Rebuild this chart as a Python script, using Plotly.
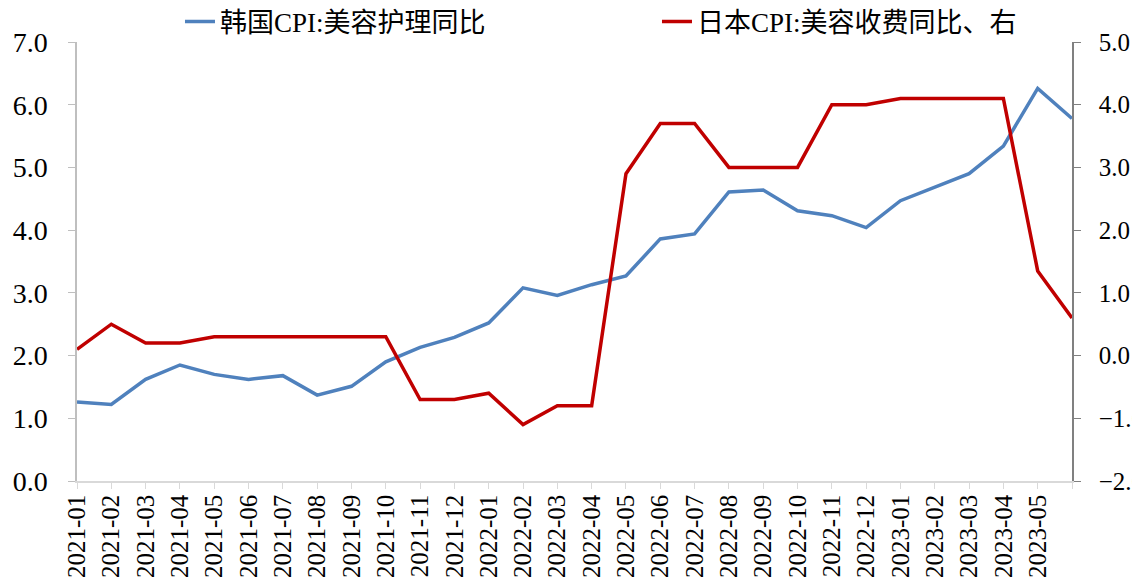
import plotly.graph_objects as go

# months 2021-01 .. 2023-06
months = ['2021-01', '2021-02', '2021-03', '2021-04', '2021-05', '2021-06',
          '2021-07', '2021-08', '2021-09', '2021-10', '2021-11', '2021-12',
          '2022-01', '2022-02', '2022-03', '2022-04', '2022-05', '2022-06',
          '2022-07', '2022-08', '2022-09', '2022-10', '2022-11', '2022-12',
          '2023-01', '2023-02', '2023-03', '2023-04', '2023-05', '2023-06']

# 韩国CPI:美容护理同比 (left axis)
korea = [1.26, 1.22, 1.62, 1.85, 1.70, 1.62, 1.68, 1.37, 1.51, 1.90,
         2.13, 2.29, 2.52, 3.08, 2.96, 3.13, 3.27, 3.86, 3.94, 4.61,
         4.64, 4.31, 4.23, 4.04, 4.47, 4.68, 4.90, 5.34, 6.26, 5.78]

# 日本CPI:美容收费同比 (right axis)
japan = [0.1, 0.5, 0.2, 0.2, 0.3, 0.3, 0.3, 0.3, 0.3, 0.3,
         -0.7, -0.7, -0.6, -1.1, -0.8, -0.8, 2.9, 3.7, 3.7, 3.0,
         3.0, 3.0, 4.0, 4.0, 4.1, 4.1, 4.1, 4.1, 1.35, 0.6]

# last month has no label on the axis
tick_text = months[:-1] + ['']

color_blue = 'rgb(79,129,189)'
color_red = 'rgb(192,0,0)'
font_num = 'Liberation Serif, Times New Roman, serif'
font_legend = 'Liberation Serif, Noto Sans CJK SC, serif'

fig = go.Figure()
fig.add_trace(go.Scatter(
    x=months, y=korea,
    mode='lines',
    line=dict(color=color_blue, width=3.5),
    name='韩国CPI:美容护理同比',
))
fig.add_trace(go.Scatter(
    x=months, y=japan,
    mode='lines',
    line=dict(color=color_red, width=3.5),
    name='日本CPI:美容收费同比、右',
    yaxis='y2',
))

fig.update_layout(
    width=1132,
    height=579,
    margin=dict(l=77, r=60, t=42, b=98, autoexpand=False),
    paper_bgcolor='white',
    plot_bgcolor='white',
    showlegend=True,
    legend=dict(
        orientation='h',
        xref='container', yref='container',
        x=0.159, xanchor='left',
        y=1 - 22 / 579, yanchor='middle',
        font=dict(family=font_legend, size=27, color='black'),
        entrywidth=432,
        bgcolor='rgba(0,0,0,0)',
    ),
    xaxis=dict(
        type='category',
        range=[0, len(months) - 1],
        tickmode='array',
        tickvals=months,
        ticktext=tick_text,
        tickangle=-90,
        tickfont=dict(family=font_num, size=25, color='black'),
        ticks='outside',
        ticklen=6,
        tickcolor='#D9D9D9',
        showline=True,
        linecolor='#D9D9D9',
        linewidth=1.5,
        showgrid=False,
        zeroline=False,
        ticklabelstandoff=-4,
        automargin=False,
    ),
    yaxis=dict(
        range=[0, 7],
        dtick=1,
        tickformat='.1f',
        tickfont=dict(family=font_num, size=28, color='black'),
        ticks='outside',
        ticklen=7,
        tickcolor='#BFBFBF',
        showline=True,
        linecolor='#BFBFBF',
        linewidth=1.5,
        showgrid=False,
        zeroline=False,
        ticklabelstandoff=15,
        automargin=False,
    ),
    yaxis2=dict(
        overlaying='y',
        side='right',
        range=[-2, 5],
        dtick=1,
        tickformat='.1f',
        tickfont=dict(family=font_num, size=25, color='black'),
        ticks='outside',
        ticklen=7,
        tickcolor='#808080',
        showline=True,
        linecolor='#808080',
        linewidth=1.5,
        showgrid=False,
        zeroline=False,
        ticklabelstandoff=13,
        automargin=False,
    ),
)

# drop the default 8px page margin so the figure sits at the window corner
fig.write_html("out.html", config={'displayModeBar': False},
               post_script="document.body.style.margin='0';")
